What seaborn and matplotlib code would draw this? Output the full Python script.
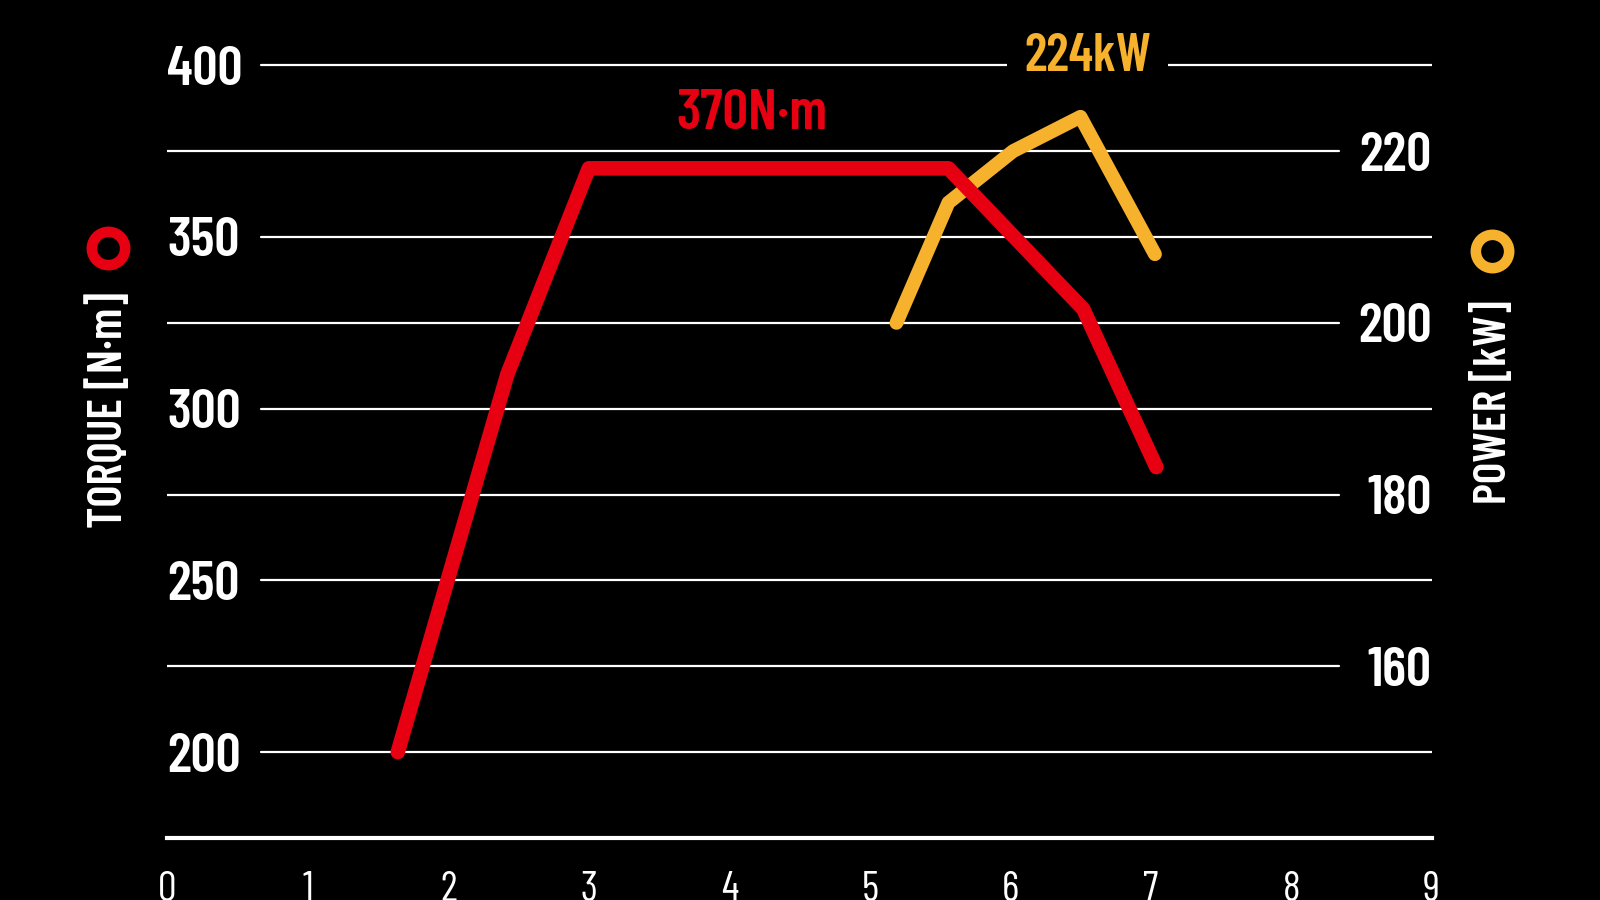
import matplotlib
matplotlib.use("Agg")
import matplotlib.pyplot as plt
from matplotlib.lines import Line2D
import seaborn as sns

# engine curve, x in 1000 rpm
rpm_torque = [1.64, 2.42, 3.0, 5.56, 6.52, 7.04]
torque_nm = [200, 310, 370, 370, 329, 283]

rpm_power = [5.19, 5.56, 6.02, 6.5, 7.03]
power_kw = [200, 214, 220, 224, 208]

x_ticks = list(range(10))
x_inner_ticks = list(range(1, 9))
torque_ticks = [200, 250, 300, 350, 400]
power_ticks = [160, 180, 200, 220, 240]
# grid in power units (torque 200..400 every 25 maps to power 150..230)
grid_left_labelled = [150, 170, 190, 210, 230]
grid_right_labelled = [160, 180, 200, 220]

RED = "#E60012"
YELLOW = "#F6B12D"
WHITE = "#FFFFFF"

sns.set_style("dark")
plt.rcParams["font.family"] = ["Barlow Condensed", "Oswald", "Roboto Condensed",
                               "Liberation Sans Narrow", "DejaVu Sans"]
plt.rcParams["font.weight"] = 600

fig = plt.figure(figsize=(16, 9), dpi=100)
fig.patch.set_facecolor("black")

ax = fig.add_axes([0.1046, 0.069, 0.7902, 0.9729])
ax2 = ax.twinx()
ax.set_zorder(ax2.get_zorder() + 1)
ax.patch.set_visible(False)
ax2.patch.set_visible(False)

ax.set_xlim(0, 9)
ax.set_ylim(175, 430)
ax2.set_ylim(140, 242)

# gridlines
for p in grid_left_labelled:
    ax2.axhline(p, xmin=0.0743, xmax=1.0, color=WHITE, lw=1.6, zorder=1)
for p in grid_right_labelled:
    ax2.axhline(p, xmin=0.0, xmax=0.9266, color=WHITE, lw=1.6, zorder=1)

# curves
sns.lineplot(x=rpm_power, y=power_kw, ax=ax2, color=YELLOW, linewidth=10,
             solid_capstyle="round", solid_joinstyle="round", zorder=2)
sns.lineplot(x=rpm_torque, y=torque_nm, ax=ax, color=RED, linewidth=10.5,
             solid_capstyle="round", solid_joinstyle="round", zorder=2)

# peak labels
ax.text(4.16, 385.8, "370N·m", color=RED, fontsize=41, ha="center", va="center")
ax2.text(6.55, 231, "224kW", color=YELLOW, fontsize=38, ha="center", va="center",
         zorder=5, bbox=dict(boxstyle="square,pad=0.33", fc="black", ec="none"))

# axes styling
for s in ["left", "right", "top"]:
    ax.spines[s].set_visible(False)
for s in ax2.spines.values():
    s.set_visible(False)
ax.spines["bottom"].set_color(WHITE)
ax.spines["bottom"].set_linewidth(3)

ax.set_xticks(x_ticks)
ax.set_xticklabels([str(v) for v in x_ticks])
ax.set_xticks(x_inner_ticks, minor=True)
ax.tick_params(axis="x", which="major", length=0, pad=24, labelsize=30, labelcolor=WHITE)
ax.tick_params(axis="x", which="minor", direction="in", length=10, width=1.6, color=WHITE)
for lbl in ax.get_xticklabels():
    lbl.set_fontweight("normal")

ax.set_yticks(torque_ticks)
ax.set_yticklabels([str(v) for v in torque_ticks])
ax.tick_params(axis="y", length=0, pad=0, labelsize=40, labelcolor=WHITE)
for lbl in ax.get_yticklabels():
    lbl.set_horizontalalignment("left")

ax2.set_yticks(power_ticks)
ax2.set_yticklabels([str(v) for v in power_ticks])
ax2.tick_params(axis="y", length=0, pad=0, labelsize=40, labelcolor=WHITE)
for lbl in ax2.get_yticklabels():
    lbl.set_horizontalalignment("right")

ax.set_xlabel("")
ax.set_ylabel("")
ax2.set_ylabel("")
ax.grid(False)
ax2.grid(False)

# axis titles with ring markers
fig.text(0.068, 0.5444, "TORQUE [N·m]", color=WHITE, fontsize=34, rotation=90,
         ha="center", va="center")
fig.text(0.9325, 0.5533, "POWER [kW]", color=WHITE, fontsize=33, rotation=90,
         ha="center", va="center")
fig.add_artist(Line2D([0.0675], [0.7244], transform=fig.transFigure, marker="o",
                      markersize=24, markeredgewidth=7.6, markerfacecolor="none",
                      markeredgecolor=RED, linestyle="none"))
fig.add_artist(Line2D([0.9325], [0.7214], transform=fig.transFigure, marker="o",
                      markersize=24, markeredgewidth=7.6, markerfacecolor="none",
                      markeredgecolor=YELLOW, linestyle="none"))

plt.savefig("out.png", dpi=100, facecolor="black")
